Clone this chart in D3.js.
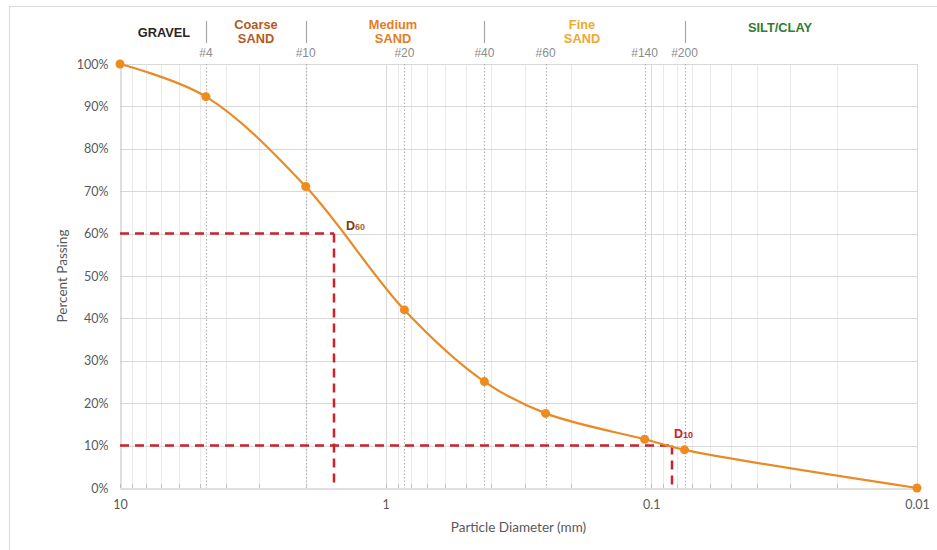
<!DOCTYPE html>
<html>
<head>
<meta charset="utf-8">
<script src="https://cdn.jsdelivr.net/npm/d3@7"></script>
<style>
  html, body { margin: 0; padding: 0; background: #fff; }
  svg { display: block; }
</style>
</head>
<body>
<svg id="chart" width="937" height="550"></svg>
<script>
// Grain-size distribution data
const sieveSizes   = [10, 4.75, 2.0, 0.85, 0.425, 0.25, 0.106, 0.075, 0.01];   // mm
const percentPass  = [100, 92.3, 71.1, 42, 25.1, 17.6, 11.5, 9.0, 0];          // %

const sieveNames   = ["#4", "#10", "#20", "#40", "#60", "#140", "#200"];
const sieveOpening = [4.75, 2.0, 0.85, 0.425, 0.25, 0.106, 0.075];

const yTicks       = [0, 10, 20, 30, 40, 50, 60, 70, 80, 90, 100];
const xTickValues  = [10, 1, 0.1, 0.01];
const xTickLabels  = ["10", "1", "0.1", "0.01"];

const zoneNames    = [["GRAVEL"], ["Coarse", "SAND"], ["Medium", "SAND"], ["Fine", "SAND"], ["SILT/CLAY"]];
const zoneBounds   = [10, 4.75, 2.0, 0.425, 0.075, 0.01];   // zone edges, mm
const zoneColors   = ["#262626", "#b45a1c", "#e57d1f", "#eea92e", "#2e7d32"];

const dLabels      = ["60", "10"];
const dPercent     = [60, 10];
const dSize        = [1.565, 0.0836];   // D60, D10 in mm

(function draw() {
  const svg = d3.select("#chart");
  const W = 937, H = 550;
  const pLeft = 120, pRight = 917, pTop = 64, pBottom = 488;

  const x = d3.scaleLog().domain([10, 0.01]).range([pLeft, pRight]);
  const y = d3.scaleLinear().domain([0, 100]).range([pBottom, pTop]);
  const isDecade = d => Math.abs(Math.log10(d) - Math.round(Math.log10(d))) < 1e-9;
  const px = v => Math.round(x(v)) + 0.5;

  // outer frame
  svg.append("rect")
    .attr("x", 9.5).attr("y", 6.5).attr("width", W + 10).attr("height", H + 10)
    .attr("fill", "none").attr("stroke", "#d9d9d9").attr("stroke-width", 1);

  // minor log grid
  const minorVals = [];
  for (let e = -2; e <= 0; e++) {
    for (let m = 1; m <= 9; m++) {
      const v = m * Math.pow(10, e);
      if (v > 0.0100001 && v < 9.9999) minorVals.push(v);
    }
  }
  svg.append("g").selectAll("line").data(minorVals).join("line")
    .attr("x1", px).attr("x2", px)
    .attr("y1", pTop).attr("y2", pBottom)
    .attr("stroke", d => isDecade(d) ? "#d9d9d9" : "#e9e9e9")
    .attr("stroke-width", 1);

  // horizontal grid
  svg.append("g").selectAll("line").data(yTicks.filter(d => d > 0)).join("line")
    .attr("x1", pLeft).attr("x2", pRight)
    .attr("y1", d => Math.round(y(d)) + 0.5).attr("y2", d => Math.round(y(d)) + 0.5)
    .attr("stroke", "#d9d9d9").attr("stroke-width", 1);

  // right plot edge
  svg.append("line")
    .attr("x1", pRight + 0.5).attr("x2", pRight + 0.5).attr("y1", pTop).attr("y2", pBottom)
    .attr("stroke", "#d9d9d9");

  // sieve lines (dotted)
  svg.append("g").selectAll("line").data(sieveOpening).join("line")
    .attr("x1", px).attr("x2", px)
    .attr("y1", pTop).attr("y2", pBottom)
    .attr("stroke", "#b4b4b4").attr("stroke-width", 1.2)
    .attr("stroke-dasharray", "1.5,2");

  // sieve labels
  svg.append("g").selectAll("text").data(sieveNames).join("text")
    .attr("x", (d, i) => x(sieveOpening[i]))
    .attr("y", 57)
    .attr("text-anchor", "middle")
    .attr("font-family", "Liberation Sans, Arial, sans-serif")
    .attr("font-size", 12)
    .attr("fill", "#8c8c8c")
    .text(d => d);

  // y axis
  const yAxis = d3.axisLeft(y).tickValues(yTicks).tickFormat(d => d + "%").tickSize(0).tickPadding(12);
  const gy = svg.append("g").attr("transform", `translate(${pLeft + 0.5},0)`).call(yAxis);
  gy.select(".domain").attr("stroke", "#bfbfbf");
  gy.selectAll("text")
    .attr("font-family", "Lato, Open Sans, sans-serif")
    .attr("font-size", 12.5).attr("fill", "#595959");

  // x axis
  const xAxis = d3.axisBottom(x).tickValues(xTickValues)
    .tickFormat((d, i) => xTickLabels[i]).tickSize(0).tickPadding(12);
  const gx = svg.append("g").attr("transform", `translate(0,${pBottom + 0.5})`).call(xAxis);
  gx.select(".domain").attr("stroke", "#bfbfbf");
  gx.selectAll("text")
    .attr("font-family", "Lato, Open Sans, sans-serif")
    .attr("font-size", 12.5).attr("fill", "#595959");

  // small inside ticks on the bottom axis
  svg.append("g").selectAll("line").data(minorVals.concat([10, 0.01])).join("line")
    .attr("x1", px).attr("x2", px)
    .attr("y1", pBottom - 4).attr("y2", pBottom)
    .attr("stroke", "#bfbfbf");

  // axis titles
  svg.append("text")
    .attr("x", (pLeft + pRight) / 2).attr("y", 532)
    .attr("text-anchor", "middle")
    .attr("font-family", "Lato, Open Sans, sans-serif")
    .attr("font-size", 13.5).attr("fill", "#595959")
    .text("Particle Diameter (mm)");
  svg.append("text")
    .attr("transform", `translate(67,${(pTop + pBottom) / 2}) rotate(-90)`)
    .attr("text-anchor", "middle")
    .attr("font-family", "Lato, Open Sans, sans-serif")
    .attr("font-size", 13.5).attr("fill", "#595959")
    .text("Percent Passing");

  // zone separators and labels
  const sepVals = zoneBounds.slice(1, -1);
  svg.append("g").selectAll("line").data(sepVals).join("line")
    .attr("x1", px).attr("x2", px)
    .attr("y1", 21).attr("y2", 43)
    .attr("stroke", "#a6a6a6").attr("stroke-width", 1.2);

  const zoneCenters = [164, 256, 393, 582, 780];
  const zg = svg.append("g");
  zoneNames.forEach((lines, i) => {
    const t = zg.append("text")
      .attr("x", zoneCenters[i])
      .attr("text-anchor", "middle")
      .attr("font-family", "Liberation Sans, Arial, sans-serif")
      .attr("font-weight", "bold")
      .attr("font-size", 12.8)
      .attr("fill", zoneColors[i]);
    if (lines.length === 1) {
      t.attr("y", i === 4 ? 32 : 37).text(lines[0]);
    } else {
      lines.forEach((ln, j) => {
        t.append("tspan").attr("x", zoneCenters[i]).attr("y", 29 + j * 14).text(ln);
      });
    }
  });

  // D60 / D10 construction lines
  const red = "#cc2229";
  const dg = svg.append("g");
  dPercent.forEach((p, i) => {
    dg.append("line")
      .attr("x1", pLeft).attr("x2", x(dSize[i]))
      .attr("y1", y(p)).attr("y2", y(p))
      .attr("stroke", red).attr("stroke-width", 2.5).attr("stroke-dasharray", "9,6");
    dg.append("line")
      .attr("x1", x(dSize[i])).attr("x2", x(dSize[i]))
      .attr("y1", y(p)).attr("y2", pBottom)
      .attr("stroke", red).attr("stroke-width", 2.5).attr("stroke-dasharray", "9,6");
  });

  // gradation curve
  const pts = sieveSizes.map((s, i) => [x(s), y(percentPass[i])]);
  svg.append("path")
    .attr("d", d3.line().curve(d3.curveCatmullRom.alpha(0.5))(pts))
    .attr("fill", "none").attr("stroke", "#ea8a24").attr("stroke-width", 2.2);
  svg.append("g").selectAll("circle").data(pts).join("circle")
    .attr("cx", d => d[0]).attr("cy", d => d[1]).attr("r", 4.5)
    .attr("fill", "#ee8a1e");

  // D labels
  const dLabelColors = ["#7a3d14", red];
  const dLabelOffsets = [[12, -4], [2, -8]];
  dLabels.forEach((s, i) => {
    const t = svg.append("text")
      .attr("x", x(dSize[i]) + dLabelOffsets[i][0])
      .attr("y", y(dPercent[i]) + dLabelOffsets[i][1])
      .attr("font-family", "Liberation Sans, Arial, sans-serif")
      .attr("font-weight", "bold")
      .attr("font-size", 12.5)
      .attr("fill", dLabelColors[i]);
    t.append("tspan").text("D");
    t.append("tspan").attr("font-size", 9).attr("fill", i === 0 ? "#b4642a" : red).text(s);
  });
})();
</script>
</body>
</html>
